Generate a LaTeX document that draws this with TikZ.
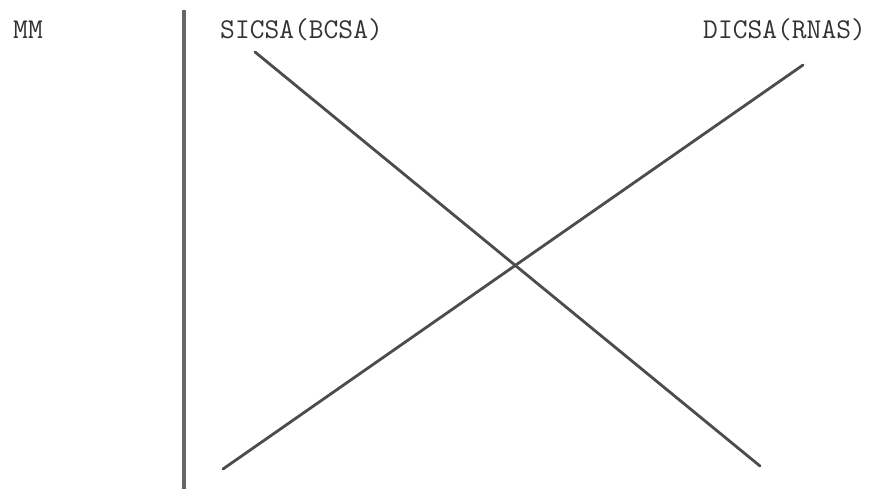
\documentclass[tikz,border=0pt]{standalone}
\usepackage{fontspec}
\begin{document}
\begin{tikzpicture}[x=0.03cm,y=-0.03cm,
  lbl/.style={font=\ttfamily\fontsize{24.5}{28}\selectfont, text=black!80, inner sep=0pt},
  cross/.style={black!70, line width=2.4pt, line cap=round}]
\useasboundingbox (0,0) rectangle (889,491);
\draw[black!60, line width=3.2pt] (184,10) -- (184,489);
\node[lbl, anchor=west] (mm) at (13,30) {MM};
\node[lbl, anchor=west] (sicsa) at (220,30) {SICSA(BCSA)};
\node[lbl, anchor=west] (dicsa) at (703,30) {DICSA(RNAS)};
\coordinate (sa) at (255,52);
\coordinate (sb) at (760,466);
\coordinate (da) at (223,469);
\coordinate (db) at (803,65);
\draw[cross] (sa) -- (sb);
\draw[cross] (da) -- (db);
\end{tikzpicture}
\end{document}
